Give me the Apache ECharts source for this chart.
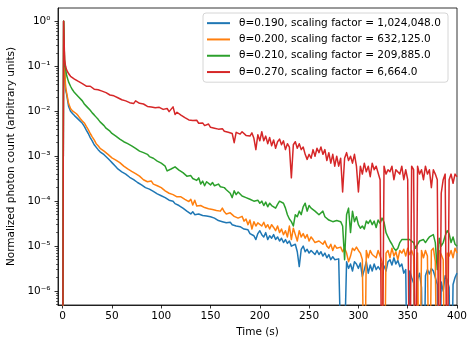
<!DOCTYPE html>
<html>
<head>
<meta charset="utf-8">
<script src="https://cdn.jsdelivr.net/npm/echarts@6/dist/echarts.min.js"></script>
<style>
  html, body { margin: 0; padding: 0; background: #fff; }
  #chart { width: 476px; height: 347px; }
</style>
</head>
<body>
<div id="chart"></div>
<script>
// sample times (s)
const times = [0, 1, 2, 3,
  4, 6, 8, 10, 12, 14, 16, 18, 20, 22,
  24, 26, 28, 30, 32, 34, 36, 38, 40, 42,
  44, 46, 48, 50, 52, 54, 56, 58, 60, 62,
  64, 66, 68, 70, 72, 74, 76, 78, 80, 82,
  84, 86, 88, 90, 92, 94, 96, 98, 100, 102,
  104, 106, 108, 110, 112, 114, 116, 118, 120, 122,
  124, 126, 128, 130, 132, 134, 136, 138, 140, 142,
  144, 146, 148, 150, 152, 154, 156, 158, 160, 162,
  164, 166, 168, 170, 172, 174, 176, 178, 180, 182,
  184, 186, 188, 190, 192, 194, 196, 198, 200, 202,
  204, 206, 208, 210, 212, 214, 216, 218, 220, 222,
  224, 226, 228, 230, 232, 234, 236, 238, 240, 242,
  244, 246, 248, 250, 252, 254, 256, 258, 260, 262,
  264, 266, 268, 270, 272, 274, 276, 278, 280, 282,
  284, 286, 288, 290, 292, 294, 296, 298, 300, 302,
  304, 306, 308, 310, 312, 314, 316, 318, 320, 322,
  324, 326, 328, 330, 332, 334, 336, 338, 340, 342,
  344, 346, 348, 350, 352, 354, 356, 358, 360, 362,
  364, 366, 368, 370, 372, 374, 376, 378, 380, 382,
  384, 386, 388, 390, 392, 394, 396, 398, 400];

const theta190 = [0, 1.0, 0.08, 0.03,
  0.024, 0.013, 0.01, 0.0089, 0.008, 0.0074, 0.0066, 0.006, 0.0054, 0.0046,
  0.0038, 0.0032, 0.0026, 0.0022, 0.0018, 0.00165, 0.0014, 0.00125, 0.00117, 0.00108,
  0.001, 0.00089, 0.0008, 0.00072, 0.00066, 0.00058, 0.00052, 0.00048, 0.00045, 0.00042,
  0.0004, 0.00037, 0.00034, 0.00031, 0.0003, 0.00028, 0.00026, 0.00025, 0.00023, 0.00021,
  0.0002, 0.00019, 0.000185, 0.00018, 0.000165, 0.00016, 0.000145, 0.00014, 0.000132, 0.000125,
  0.00012, 0.00011, 0.000105, 0.000095, 0.0001, 0.000088, 0.000085, 0.00008, 0.000077, 0.00007,
  0.000068, 0.00006, 0.000064, 0.000052, 0.000058, 0.00005, 0.000054, 0.000052, 0.00005, 0.000048,
  0.000046, 0.000047, 0.000043, 0.000045, 0.000041, 0.000042, 0.00004, 0.000037, 0.000039, 0.000035,
  0.000036, 0.000033, 0.000032, 0.000034, 0.00003, 0.000031, 0.000028, 0.000026, 0.000027, 0.000025,
  0.000024, 0.000022, 0.000023, 0.000019, 0.000021, 0.000017, 0.000014, 0.000019, 0.000022, 0.000018,
  0.000016, 0.00002, 0.000014, 0.000017, 0.000015, 0.000018, 0.000014, 0.000016, 0.000013, 0.000015,
  0.000012, 0.000014, 0.0000115, 0.000013, 0.00001, 0.0000095, 0.000011, 0.0000075, 0.0000035, 0.0000085,
  0.00001, 0.0000075, 0.0000085, 0.000007, 0.000008, 0.0000075, 0.0000065, 0.000008, 0.0000065, 0.0000075,
  0.000006, 0.000007, 0.0000055, 0.0000065, 0.000005, 0.0000058, 0.000005, 0.0000055, 0.0000052, 0.0000048,
  0, 0, 0.0000045, 0.0000032, 0.000004, 0.0000028, 0.0000045, 0.000004, 0.0000032, 0.0000042,
  0.0000021, 0.000003, 0.0000045, 0.0000025, 0.0000038, 0.0000028, 0.000004, 0.000003, 0.0000035, 0.000003,
  0.0000042, 0.0000036, 0.0000028, 0.0000045, 0.000005, 0.0000038, 0.0000055, 0.000004, 0.0000048, 0.0000035,
  0.000004, 0.0000025, 0.000003, 0, 0.0000028, 0.000002, 0.0000015, 0, 0.0000018, 0.0000025,
  0.0000012, 0, 0.0000022, 0.000003, 0.0000024, 0.0000032, 0.0000028, 0.000002, 0.0000014, 0,
  0.0000016, 0.000001, 0.0000022, 0.0000018, 0.0000012, 0, 0.0000014, 0.000002, 0.0000025];

const theta200 = [0, 1.0, 0.1, 0.035,
  0.026, 0.015, 0.0115, 0.0102, 0.0095, 0.0088, 0.0078, 0.0068, 0.0061, 0.0055,
  0.0046, 0.0039, 0.0032, 0.0027, 0.0023, 0.0019, 0.0017, 0.0015, 0.0014, 0.0013,
  0.00118, 0.0011, 0.001, 0.00092, 0.00088, 0.00082, 0.00075, 0.00072, 0.00066, 0.0006,
  0.00055, 0.00052, 0.0005, 0.00046, 0.00043, 0.00041, 0.00038, 0.00036, 0.00034, 0.0003,
  0.00028, 0.00027, 0.00025, 0.00028, 0.00024, 0.00023, 0.00022, 0.00021, 0.0002, 0.00019,
  0.00017, 0.00016, 0.00015, 0.000138, 0.00014, 0.00013, 0.000125, 0.00012, 0.000125, 0.000115,
  0.00011, 0.000105, 0.000098, 0.00011, 0.000082, 0.000105, 0.000078, 0.000085, 0.00008, 0.000075,
  0.000072, 0.00007, 0.000068, 0.000072, 0.000065, 0.000067, 0.000062, 0.000066, 0.00006, 0.00007,
  0.000058, 0.000052, 0.00005, 0.000055, 0.00005, 0.000046, 0.000044, 0.000042, 0.00004, 0.000046,
  0.000036, 0.00004, 0.00003, 0.000038, 0.000024, 0.000035, 0.000028, 0.000033, 0.000032, 0.000028,
  0.000034, 0.000026, 0.00003, 0.000024, 0.00003, 0.000026, 0.000022, 0.000028, 0.00002, 0.000024,
  0.000018, 0.000022, 0.000016, 0.000028, 0.000014, 0.000025, 0.000018, 0.000013, 0.000022, 0.000016,
  0.000019, 0.000015, 0.000018, 0.000013, 0.000016, 0.000014, 0.000012, 0.000011, 0.000013, 0.000012,
  0.000011, 0.000013, 0.00001, 0.000009, 0.000011, 0.000008, 0.0000105, 0.000009, 0.0000085, 0.0000095,
  0.0000075, 0.000009, 0.000007, 0.0000045, 0.000006, 0.000009, 0.000008, 0.0000095, 0.000008, 0.000007,
  0.000005, 0, 0.000008, 0.0000055, 0.000008, 0.0000065, 0.000007, 0.0000055, 0.000008, 0.000006,
  0.0000045, 0, 0.000007, 0.000008, 0.0000055, 0.000009, 0.000006, 0.0000075, 0.000005, 0.000008,
  0.000007, 0.0000085, 0.000006, 0.000009, 0.0000065, 0.000008, 0.000006, 0, 0.000007, 0,
  0.000008, 0.0000055, 0.000008, 0.000006, 0, 0.000008, 0.000009, 0.0000045, 0, 0.000008,
  0.0000065, 0.000005, 0, 0.000007, 0.000006, 0.000008, 0.0000055, 0.000009, 0.000007];

const theta210 = [0, 1.0, 0.11, 0.089,
  0.063, 0.045, 0.036, 0.030, 0.026, 0.024, 0.021, 0.019, 0.017, 0.0145,
  0.013, 0.0118, 0.0105, 0.0092, 0.0083, 0.0074, 0.0066, 0.0058, 0.0053, 0.0048,
  0.0042, 0.0038, 0.0036, 0.0032, 0.0030, 0.0028, 0.0026, 0.0024, 0.0023, 0.0021,
  0.0020, 0.0019, 0.0018, 0.0017, 0.0016, 0.0015, 0.00145, 0.0013, 0.00125, 0.0012,
  0.00115, 0.0011, 0.00098, 0.00093, 0.0009, 0.00082, 0.00078, 0.00074, 0.0007, 0.00066,
  0.0006, 0.00047, 0.0005, 0.00052, 0.00048, 0.00058, 0.00055, 0.00049, 0.00045, 0.00043,
  0.0004, 0.00036, 0.00034, 0.00037, 0.00032, 0.00031, 0.00029, 0.00033, 0.00024, 0.00028,
  0.00022, 0.00027, 0.00025, 0.00023, 0.00026, 0.00022, 0.0002, 0.00024, 0.00021, 0.00019,
  0.0002, 0.00018, 0.00017, 0.00015, 0.00012, 0.00017, 0.00014, 0.00016, 0.00015, 0.00013,
  0.00014, 0.00012, 0.00013, 0.00011, 0.00012, 0.0001, 0.000095, 0.000105, 0.00009, 0.0001,
  0.00008, 0.000095, 0.000075, 0.00009, 0.00008, 0.000085, 0.00007, 0.000085, 0.0001, 0.00011,
  0.00009, 0.00007, 0.00005, 0.00004, 0.000035, 0.000028, 0.00005, 0.000045, 0.00006, 0.00005,
  0.000075, 0.00009, 0.00006, 0.00008, 0.00007, 0.000075, 0.00006, 0.000065, 0.00005, 0.000055,
  0.00006, 0.000045, 0.000042, 0.000038, 0.00004, 0.000035, 0.000036, 0.000037, 0.000034, 0.000035,
  0.000028, 0.000005, 0.00005, 0.00007, 0.00002, 0.00006, 0.000035, 0.000045, 0.00003, 0.000025,
  0.000028, 0.000024, 0.000036, 0.000032, 0.000038, 0.00003, 0.000036, 0.000026, 0.000038, 0.000032,
  0.000042, 0.000034, 0.00002, 0.000016, 0.000013, 0.000011, 0.000009, 0.000008, 0.000009, 0.000012,
  0.000014, 0.000013, 0.000014, 0.000013, 0.000014, 0.000013, 0.000012, 0.000009, 0.000011, 0.000013,
  0.000012, 0.000014, 0.000012, 0.000014, 0.000016, 0.000015, 0.000018, 0.000012, 0.000003, 0.000015,
  0.00001, 0.000012, 0.000017, 0.000022, 0.000019, 0.000012, 0.000016, 0.000011, 0.00001];

const theta270 = [0, 1.0, 0.14, 0.1,
  0.083, 0.069, 0.06, 0.055, 0.052, 0.048, 0.046, 0.043, 0.041, 0.038,
  0.036, 0.034, 0.036, 0.033, 0.031, 0.032, 0.030, 0.030, 0.028, 0.027,
  0.026, 0.025, 0.023, 0.024, 0.022, 0.021, 0.020, 0.019, 0.018, 0.0165,
  0.017, 0.016, 0.0155, 0.016, 0.0148, 0.017, 0.0175, 0.015, 0.014, 0.0145,
  0.0135, 0.0128, 0.013, 0.0125, 0.0135, 0.012, 0.0118, 0.0122, 0.0115, 0.011,
  0.0108, 0.0115, 0.0098, 0.0105, 0.0125, 0.0085, 0.0095, 0.0105, 0.0082, 0.0078,
  0.0072, 0.0068, 0.0064, 0.0059, 0.0062, 0.0056, 0.0063, 0.0054, 0.0050, 0.0055,
  0.0048, 0.0046, 0.0052, 0.0044, 0.0047, 0.0042, 0.0045, 0.0040, 0.0038, 0.0041,
  0.0036, 0.0039, 0.0034, 0.0037, 0.0032, 0.0020, 0.0034, 0.0037, 0.0031, 0.0035,
  0.0033, 0.0029, 0.0031, 0.0028, 0.0033, 0.0025, 0.0014, 0.0030, 0.0022, 0.0035,
  0.0022, 0.0028, 0.0019, 0.0026, 0.0017, 0.0023, 0.0015, 0.0021, 0.0024, 0.0018,
  0.0022, 0.0014, 0.0019, 0.0016, 0.00033, 0.0018, 0.0021, 0.0015, 0.0019, 0.0014,
  0.0016, 0.0011, 0.00085, 0.0011, 0.0009, 0.0014, 0.001, 0.0015, 0.0012, 0.0016,
  0.0011, 0.0014, 0.0008, 0.0012, 0.0007, 0.0011, 0.0006, 0.001, 0.0006, 0.0009,
  0.00016, 0.0009, 0.0012, 0.0008, 0.001, 0.0007, 0.0011, 0.0006, 0.00016, 0.0006,
  0.0004, 0.0007, 0.00045, 0.0006, 0.00035, 0.0007, 0.0005, 0.0006, 0.0006, 0.0003,
  0, 0.0006, 0.0004, 0.0005, 0.00045, 0.0006, 0.0003, 0.0005, 0.0005, 0.0004,
  0.0006, 0.0003, 0.0005, 0.0003, 0, 0.0006, 0.0005, 0, 0.0006, 0.0004,
  0.0005, 0.0003, 0.0006, 0.0004, 0.0005, 0.0002, 0.0005, 0.0004, 0.0003, 0,
  0.00015, 0.0003, 0.0004, 0, 0.0003, 0.0004, 0.00025, 0.0004, 0.00035];

const seriesNames = [
  'θ=0.190, scaling factor = 1,024,048.0',
  'θ=0.200, scaling factor = 632,125.0',
  'θ=0.210, scaling factor = 209,885.0',
  'θ=0.270, scaling factor = 6,664.0'
];
const seriesColors = ['#1f77b4', '#ff7f0e', '#2ca02c', '#d62728'];
const seriesValues = [theta190, theta200, theta210, theta270];

const xTicks = [0, 50, 100, 150, 200, 250, 300, 350, 400];
const yTicks = [1e-6, 1e-5, 1e-4, 1e-3, 1e-2, 1e-1, 1];
const yTickLabels = ['10⁻⁶', '10⁻⁵', '10⁻⁴', '10⁻³', '10⁻²', '10⁻¹', '10⁰'];
const minorSteps = [2, 3, 4, 5, 6, 7, 8, 9];

// minor ticks of the log axis, like matplotlib
let yMinor = [];
[1e-7, 1e-6, 1e-5, 1e-4, 1e-3, 1e-2, 1e-1].forEach(d => {
  minorSteps.forEach(m => {
    let v = m * d;
    if (v > 4.9e-7 && v < 1.98) yMinor.push(v);
  });
});

const font = 'DejaVu Sans';
// zero counts sit below the log axis, clipped at the bottom like matplotlib
const floorZero = v => (v > 0 ? v : 1e-9);

let chart = echarts.init(document.getElementById('chart'));
let option = {
  animation: false,
  backgroundColor: '#fff',
  textStyle: { fontFamily: font },
  grid: {
    left: 58, top: 8, width: 399, height: 297,
    outerBoundsMode: 'none',
    show: true, borderColor: '#000', borderWidth: 0.8,
    backgroundColor: 'transparent'
  },
  legend: {
    orient: 'vertical',
    left: 203, top: 13,
    padding: [4, 4, 4, 4],
    itemWidth: 23, itemHeight: 2,
    itemGap: 4,
    icon: 'rect',
    backgroundColor: 'rgba(255,255,255,0.8)',
    borderColor: '#cccccc', borderWidth: 0.8, borderRadius: 3,
    textStyle: {
      fontFamily: font, fontSize: 10.5, color: '#000', lineHeight: 12.3,
      width: 205, padding: [0, 0, 0, 4]
    },
    data: seriesNames
  },
  xAxis: {
    type: 'value',
    min: -4.7, max: 400,
    name: 'Time (s)',
    nameLocation: 'middle', nameGap: 22,
    nameTextStyle: { fontFamily: font, fontSize: 10.5, color: '#000' },
    splitLine: { show: false },
    axisLine: { show: true, onZero: false, lineStyle: { color: '#000', width: 0.8 } },
    axisTick: { customValues: xTicks, length: 3.5, lineStyle: { color: '#000', width: 0.8 } },
    axisLabel: { customValues: xTicks, margin: 6, fontFamily: font, fontSize: 10.5, color: '#000' }
  },
  yAxis: [{
    type: 'log', logBase: 10,
    min: 4.9e-7, max: 1.98,
    name: 'Normalized photon count (arbitrary units)',
    nameLocation: 'middle', nameGap: 40,
    nameTextStyle: { fontFamily: font, fontSize: 10.5, color: '#000' },
    splitLine: { show: false },
    axisLine: { show: true, onZero: false, lineStyle: { color: '#000', width: 0.8 } },
    axisTick: { customValues: yTicks, length: 3.5, lineStyle: { color: '#000', width: 0.8 } },
    axisLabel: {
      customValues: yTicks, margin: 7.5, fontFamily: font, fontSize: 10.5, color: '#000',
      formatter: v => yTickLabels[yTicks.findIndex(t => Math.abs(Math.log10(t) - Math.log10(v)) < 0.01)]
    }
  }, {
    type: 'log', logBase: 10,
    min: 4.9e-7, max: 1.98,
    position: 'left',
    splitLine: { show: false },
    axisLine: { show: false, onZero: false },
    axisLabel: { show: false },
    axisTick: { customValues: yMinor, length: 2, lineStyle: { color: '#000', width: 0.6 } }
  }],
  series: seriesNames.map((name, k) => ({
    name: name,
    type: 'line',
    yAxisIndex: 0,
    showSymbol: false,
    symbol: 'none',
    clip: true,
    color: seriesColors[k],
    lineStyle: { width: 1.5, color: seriesColors[k], join: 'round' },
    data: times.map((t, i) => [t, floorZero(seriesValues[k][i])])
  }))
};
chart.setOption(option);
</script>
</body>
</html>
